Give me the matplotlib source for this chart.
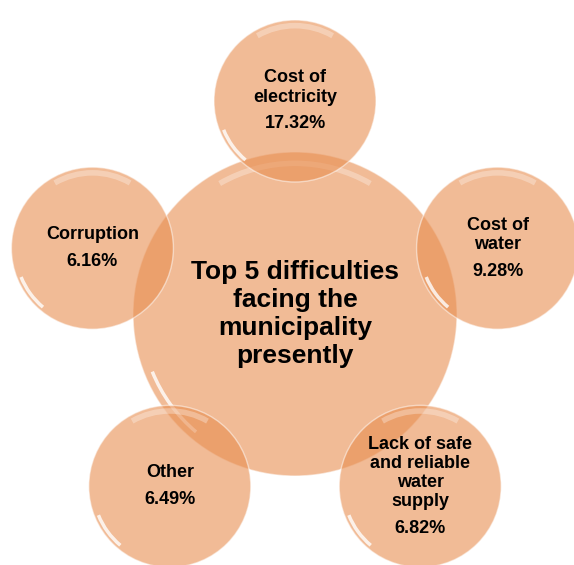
import numpy as np
import matplotlib.pyplot as plt
from matplotlib.patches import Circle, Arc

plt.rcParams['font.family'] = ['Liberation Sans', 'DejaVu Sans']

# Dane
center_label = ["Top 5 difficulties", "facing the", "municipality", "presently"]
labels = [["Cost of", "electricity"],
          ["Cost of", "water"],
          ["Lack of safe", "and reliable", "water", "supply"],
          ["Other"],
          ["Corruption"]]
percents = [17.32, 9.28, 6.82, 6.49, 6.16]

fill = "#E88E50"
W, H = 574, 565

fig = plt.figure(figsize=(W / 100, H / 100), dpi=100)
ax = fig.add_axes([0, 0, 1, 1])
ax.set_xlim(0, W)
ax.set_ylim(H, 0)
ax.set_aspect('equal')
ax.axis('off')


def bubble(cx, cy, r):
    ax.add_patch(Circle((cx, cy), r, facecolor=fill, alpha=0.6, edgecolor='none'))
    ax.add_patch(Circle((cx, cy), r, facecolor='none', edgecolor='white', alpha=0.5, lw=1.0))
    # blyski na krawedzi
    ax.add_patch(Arc((cx, cy), 2 * r * 0.93, 2 * r * 0.93, theta1=240, theta2=300,
                     color='white', alpha=0.3, lw=4))
    ax.add_patch(Arc((cx, cy), 2 * r * 0.95, 2 * r * 0.95, theta1=130, theta2=158,
                     color='white', alpha=0.8, lw=2.5))


def lines(cx, y0, rows, step, size):
    for k, row in enumerate(rows):
        ax.text(cx, y0 + k * step, row, ha='center', va='center',
                fontsize=size, fontweight='bold')


cx0, cy0, R0 = 295, 314, 162
bubble(cx0, cy0, R0)
lines(cx0, cy0 - 1.5 * 28, center_label, 28, 19)

dist, r = 213, 81
step, gap = 19, 27
for i, (rows, pct) in enumerate(zip(labels, percents)):
    ang = np.deg2rad(90 - 72 * i)
    cx = cx0 + dist * np.cos(ang)
    cy = cy0 - dist * np.sin(ang)
    bubble(cx, cy, r)
    span = (len(rows) - 1) * step + gap
    y = cy - span / 2
    lines(cx, y, rows, step, 13)
    ax.text(cx, y + span, f"{pct:.2f}%", ha='center', va='center',
            fontsize=13, fontweight='bold')

fig.savefig("out.png", dpi=100)
